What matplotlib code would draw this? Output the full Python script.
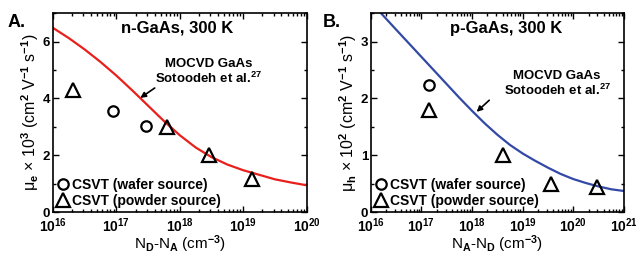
import matplotlib
matplotlib.use('Agg')
import matplotlib.pyplot as plt
from matplotlib.ticker import MultipleLocator, LogLocator, NullFormatter
from matplotlib.lines import Line2D

plt.rcParams['font.family'] = ['Liberation Sans', 'DejaVu Sans']
plt.rcParams['font.weight'] = 'bold'
plt.rcParams['mathtext.fontset'] = 'custom'
plt.rcParams['mathtext.rm'] = 'Liberation Sans:bold'
plt.rcParams['mathtext.bf'] = 'Liberation Sans:bold'
plt.rcParams['mathtext.it'] = 'Liberation Sans:bold'
plt.rcParams['mathtext.default'] = 'bf'

# n-GaAs (panel A)
n_model_x = [1e16, 10**16.25, 10**16.5, 10**16.75, 1e17, 10**17.25, 10**17.5, 10**17.75,
             1e18, 10**18.25, 10**18.5, 10**18.75, 1e19, 10**19.25, 10**19.5, 10**19.75, 1e20]
n_model_y = [6.48, 6.12, 5.72, 5.28, 4.80, 4.28, 3.74, 3.20,
             2.70, 2.27, 1.93, 1.67, 1.47, 1.31, 1.15, 1.04, 0.94]
n_wafer_x = [8.7e16, 2.9e17]
n_wafer_y = [3.54, 3.01]
n_powder_x = [2.1e16, 6.2e17, 2.9e18, 1.35e19]
n_powder_y = [4.30, 2.99, 2.02, 1.16]

# p-GaAs (panel B)
p_model_x = [10**16.2, 10**16.5, 10**16.75, 1e17, 10**17.25, 10**17.5, 10**17.75, 1e18,
             10**18.25, 10**18.5, 10**18.75, 1e19, 10**19.25, 10**19.5, 10**19.75, 1e20,
             10**20.25, 10**20.5, 10**20.75, 1e21]
p_model_y = [3.50, 3.21, 2.97, 2.73, 2.49, 2.25, 2.01, 1.78,
             1.56, 1.36, 1.18, 1.03, 0.90, 0.78, 0.67, 0.58,
             0.51, 0.45, 0.40, 0.37]
p_wafer_x = [1.4e17]
p_wafer_y = [2.24]
p_powder_x = [1.4e17, 4.1e18, 3.6e19, 2.9e20]
p_powder_y = [1.79, 1.00, 0.49, 0.44]

fig = plt.figure(figsize=(6.36, 2.57), dpi=100)
axA = fig.add_axes([0.0833, 0.175, 0.399, 0.774])
axB = fig.add_axes([0.583, 0.175, 0.398, 0.774])


def style(ax, xlim, ylim, ymajor, yminor, xlabel, ylabel):
    ax.set_xscale('log')
    ax.set_xlim(*xlim)
    ax.set_ylim(*ylim)
    ax.xaxis.set_major_locator(LogLocator(base=10, numticks=10))
    ax.xaxis.set_minor_locator(LogLocator(base=10, subs=range(2, 10), numticks=50))
    ax.xaxis.set_minor_formatter(NullFormatter())
    ax.yaxis.set_major_locator(MultipleLocator(ymajor))
    ax.yaxis.set_minor_locator(MultipleLocator(yminor))
    ax.tick_params(which='both', direction='in', top=True, right=True, width=1.0)
    ax.tick_params(which='major', length=4)
    ax.tick_params(which='minor', length=2)
    ax.tick_params(axis='x', labelsize=10, pad=3)
    ax.tick_params(axis='y', labelsize=9.5, pad=2)
    for s in ax.spines.values():
        s.set_linewidth(1.2)
    ax.set_xlabel(xlabel, fontsize=11, labelpad=-1)
    ax.set_ylabel(ylabel, fontsize=11.5, labelpad=1)


mk = dict(linestyle='none', markerfacecolor='none', markeredgecolor='black', markeredgewidth=1.6)

# panel A
axA.plot(n_model_x, n_model_y, color='#e8201c', lw=1.6)
axA.plot(n_wafer_x, n_wafer_y, marker='o', markersize=7.5, **mk)
axA.plot(n_powder_x, n_powder_y, marker='^', markersize=9.5, **mk)
style(axA, (1e16, 1e20), (0, 7), 2, 1,
      r'N$_\mathbf{D}$-N$_\mathbf{A}$ (cm$^\mathbf{-3}$)',
      r'μ$_\mathbf{e}$ × 10$^\mathbf{3}$ (cm$^\mathbf{2}$ V$^\mathbf{-1}$ s$^\mathbf{-1}$)')
axA.text(0.49, 0.925, 'n-GaAs, 300 K', transform=axA.transAxes, ha='center', va='center', fontsize=12)
axA.text(10**18.45, 4.93, 'MOCVD GaAs\nSotoodeh et al.$^\\mathbf{27}$', ha='center', va='center',
         fontsize=9.5, linespacing=1.1)
axA.annotate('', xy=(10**17.34, 3.96), xytext=(10**17.64, 4.42),
             arrowprops=dict(arrowstyle='-|>', color='black', lw=1.2, mutation_scale=8))

# panel B
axB.plot(p_model_x, p_model_y, color='#3349a6', lw=1.6)
axB.plot(p_wafer_x, p_wafer_y, marker='o', markersize=7.5, **mk)
axB.plot(p_powder_x, p_powder_y, marker='^', markersize=9.5, **mk)
style(axB, (1e16, 1e21), (0, 3.5), 1, 0.5,
      r'N$_\mathbf{A}$-N$_\mathbf{D}$ (cm$^\mathbf{-3}$)',
      r'μ$_\mathbf{h}$ × 10$^\mathbf{2}$ (cm$^\mathbf{2}$ V$^\mathbf{-1}$ s$^\mathbf{-1}$)')
axB.text(0.534, 0.925, 'p-GaAs, 300 K', transform=axB.transAxes, ha='center', va='center', fontsize=12)
axB.text(10**19.68, 2.25, 'MOCVD GaAs\nSotoodeh et al.$^\\mathbf{27}$', ha='center', va='center',
         fontsize=9.5, linespacing=1.1)
axB.annotate('', xy=(10**18.05, 1.73), xytext=(10**18.38, 2.0),
             arrowprops=dict(arrowstyle='-|>', color='black', lw=1.2, mutation_scale=8))

handles = [Line2D([], [], marker='o', markersize=7.5, **mk),
           Line2D([], [], marker='^', markersize=9.5, **mk)]
labels = ['CSVT (wafer source)', 'CSVT (powder source)']
for ax in (axA, axB):
    ax.legend(handles, labels, loc='lower left', frameon=False, fontsize=10,
              handlelength=0.8, handletextpad=0.25, labelspacing=0.15,
              borderaxespad=0.15, borderpad=0.15)

fig.text(0.012, 0.895, 'A.', fontsize=13)
fig.text(0.508, 0.895, 'B.', fontsize=13)

fig.savefig('out.png', dpi=100)
